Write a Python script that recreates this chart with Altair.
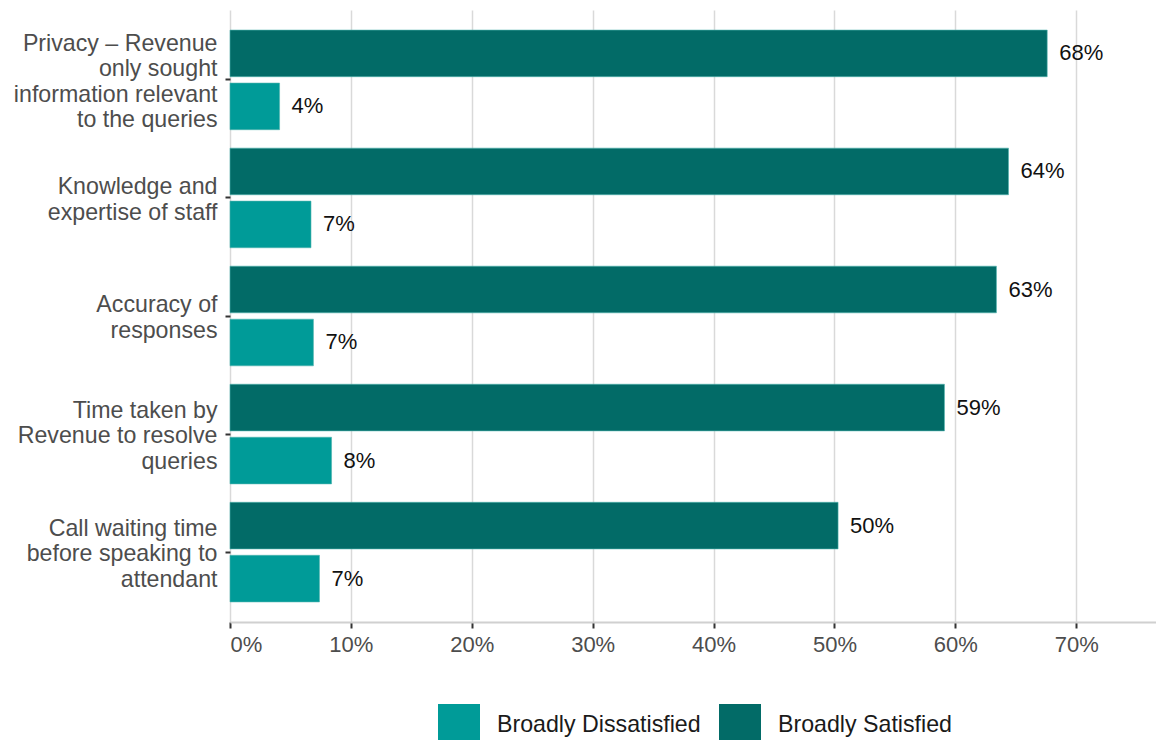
import altair as alt
import pandas as pd

categories = [
    "Privacy – Revenue|only sought|information relevant|to the queries",
    "Knowledge and|expertise of staff",
    "Accuracy of|responses",
    "Time taken by|Revenue to resolve|queries",
    "Call waiting time|before speaking to|attendant",
]
satisfied = [67.6, 64.4, 63.4, 59.1, 50.3]
dissatisfied = [4.1, 6.7, 6.9, 8.4, 7.4]
series = ["Broadly Dissatisfied", "Broadly Satisfied"]
colors = ["#009B98", "#026B67"]
x_ticks = [0, 10, 20, 30, 40, 50, 60, 70]

rows = []
for c, s, d in zip(categories, satisfied, dissatisfied):
    rows.append({"category": c, "series": "Broadly Satisfied", "value": s})
    rows.append({"category": c, "series": "Broadly Dissatisfied", "value": d})
df = pd.DataFrame(rows)

FONT = "Liberation Sans"

y = alt.Y(
    "category:N",
    sort=categories,
    scale=alt.Scale(paddingInner=0.156, paddingOuter=0.17),
    axis=alt.Axis(
        title=None,
        labelExpr="split(datum.label, '|')",
        labelFontSize=23.2,
        labelLineHeight=25.5,
        labelColor="#4d4d4d",
        labelFont=FONT,
        labelLimit=400,
        labelPadding=8,
        labelBaseline="middle",
        labelOffset=alt.ExprRef("2 - (length(split(datum.label, '|')) - 1) * 12.75"),
        ticks=True,
        tickColor="#333333",
        tickSize=5,
        tickWidth=2,
        domain=False,
        grid=False,
    ),
)
yoff = alt.YOffset(
    "series:N",
    sort=["Broadly Satisfied", "Broadly Dissatisfied"],
    scale=alt.Scale(paddingInner=0.12, paddingOuter=0),
)
x = alt.X(
    "value:Q",
    scale=alt.Scale(domain=[0, 76.6], nice=False, zero=True),
    axis=alt.Axis(
        title=None,
        values=x_ticks,
        labelExpr="datum.value + '%'",
        grid=True,
        gridColor="#d9d9d9",
        gridWidth=1.5,
        domainColor="#d0d0d0",
        domainWidth=2,
        tickColor="#333333",
        tickSize=6,
        tickWidth=2,
        labelFontSize=22,
        labelColor="#4d4d4d",
        labelFont=FONT,
        labelPadding=6,
    ),
)
color = alt.Color(
    "series:N",
    scale=alt.Scale(domain=series, range=colors),
    legend=alt.Legend(
        orient="none",
        legendX=208,
        legendY=694,
        direction="horizontal",
        title=None,
        symbolType="square",
        symbolSize=1764,
        symbolStrokeWidth=0,
        symbolOpacity=1,
        labelFontSize=23.2,
        labelFont=FONT,
        labelColor="#1a1a1a",
        labelOffset=17,
        labelLimit=400,
        columnPadding=18,
        padding=0,
    ),
)

base = alt.Chart(df).encode(y=y, yOffset=yoff, x=x)
bars = base.mark_bar(stroke="#4fb3ae", strokeWidth=0.6).encode(color=color)
labels = base.transform_calculate(
    label="format(datum.value, '.0f') + '%'"
).mark_text(
    align="left", baseline="middle", dx=12, fontSize=22, font=FONT, color="#111111"
).encode(text="label:N")

chart = (
    alt.layer(bars, labels)
    .properties(
        width=926,
        height=612,
        autosize=alt.AutoSizeParams(type="none"),
        padding={"left": 230, "top": 10, "right": 0, "bottom": 118},
    )
    .configure_view(stroke=None)
)

chart.save("out.html", embed_options={"renderer": "svg", "actions": False})
